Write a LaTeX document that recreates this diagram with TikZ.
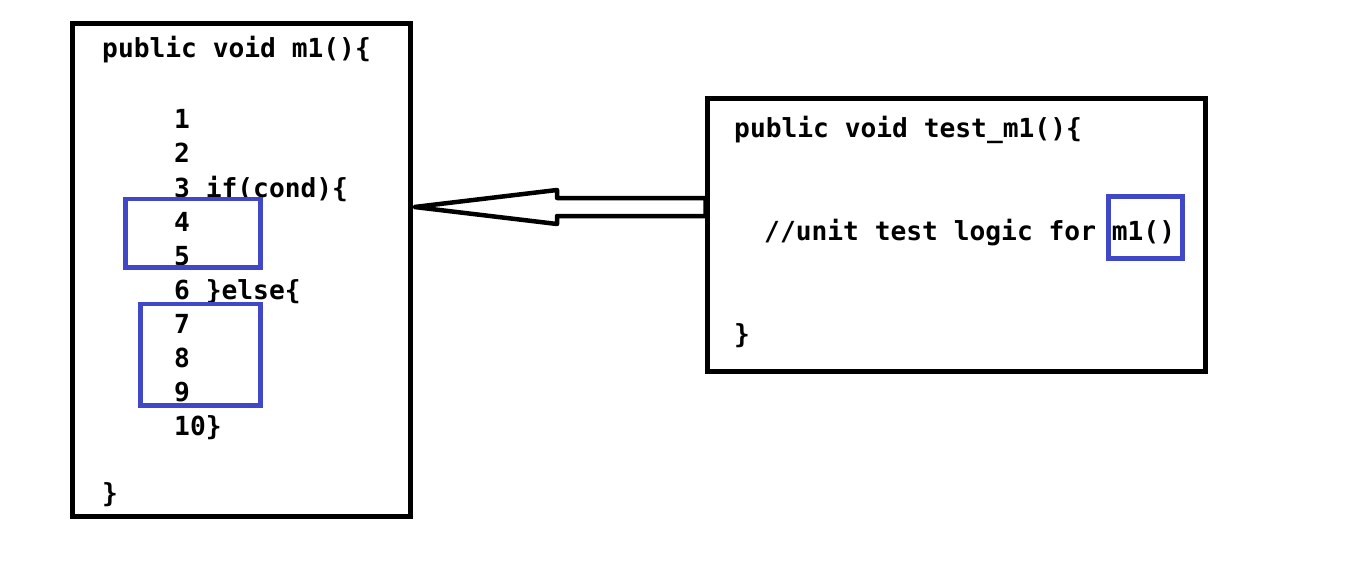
\documentclass[tikz,border=0pt]{standalone}
\usepackage{fontspec}
\setmonofont{DejaVu Sans Mono}
\usetikzlibrary{calc}
\definecolor{boxblue}{RGB}{64,72,200}
\begin{document}
\begin{tikzpicture}[x=1pt,y=-1pt,
  codebox/.style={draw=black,line width=5pt,rectangle,inner sep=0pt,outer sep=0pt},
  bluebox/.style={draw=boxblue,line width=4.5pt,rectangle,inner sep=0pt,outer sep=0pt},
  code/.style={anchor=base west,inner sep=0pt,font=\ttfamily\bfseries\fontsize{26.25}{34}\selectfont},
  arrowline/.style={draw=black,line width=4.5pt,line join=round}]
\useasboundingbox (0,0) rectangle (1360,567);
% boxes
\node[codebox,minimum width=338,minimum height=492] (L) at (241.5,270) {};
\node[codebox,minimum width=498,minimum height=272.5] (R) at (956.5,235.25) {};
% left code
\node[code] (l0) at (102,58) {public void m1()\{};
\node[code] (l1) at (174,129) {1};
\node[code] (l2) at (174,163) {2};
\node[code] (l3) at (174,197) {3 if(cond)\{};
\node[code] (l4) at (174,231) {4};
\node[code] (l5) at (174,265) {5};
\node[code] (l6) at (174,299) {6 \}else\{};
\node[code] (l7) at (174,333) {7};
\node[code] (l8) at (174,367) {8};
\node[code] (l9) at (174,401) {9};
\node[code] (l10) at (174,435) {10\}};
\node[code] (lend) at (102,502) {\}};
% right code
\node[code] (r0) at (734,138) {public void test\_m1()\{};
\node[code] (r1) at (764,240) {//unit test logic for m1()};
\node[code] (rend) at (734,343) {\}};
% blue highlight boxes
\node[bluebox,minimum width=135,minimum height=68.5] (b1) at (193,233.25) {};
\node[bluebox,minimum width=120,minimum height=101.5] (b2) at (200.5,354.75) {};
\node[bluebox,minimum width=74,minimum height=62] (b3) at (1145.5,227.5) {};
% hollow arrow from R to L
\coordinate (ay) at (0,207);
\coordinate (ht) at (557,190);
\coordinate (hb) at (557,224);
\coordinate (st) at (557,198);
\coordinate (sb) at (557,216);
\coordinate (tip) at ($(L.east |- ay)+(4,0)$);
\draw[arrowline] (tip) -- (ht) -- (st) -- ($(R.west |- st)+(-2,0)$) -- ($(R.west |- sb)+(-2,0)$) -- (sb) -- (hb) -- cycle;
\end{tikzpicture}
\end{document}
